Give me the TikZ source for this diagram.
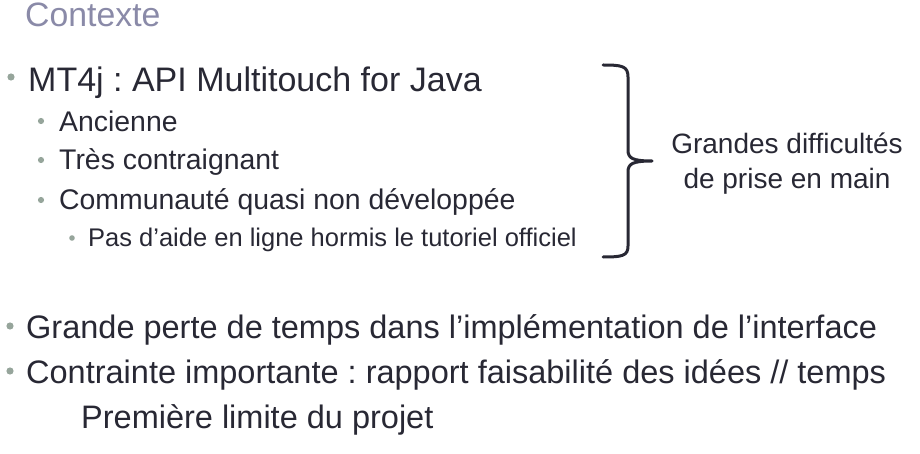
\documentclass[tikz,border=0pt]{standalone}
\usepackage{fontspec}
\setmainfont{Liberation Sans}
\frenchspacing
\definecolor{txt}{RGB}{40,40,52}
\definecolor{ttl}{RGB}{138,138,168}
\definecolor{bul}{RGB}{150,165,155}
\begin{document}
\begin{tikzpicture}[x=1pt,y=-1pt,
  lvlone/.style={anchor=base west,inner sep=0pt,text=txt,font=\fontsize{34}{40}\selectfont},
  lvlbottom/.style={anchor=base west,inner sep=0pt,text=txt,font=\fontsize{32.5}{40}\selectfont},
  lvltwo/.style={anchor=base west,inner sep=0pt,text=txt,font=\fontsize{28.4}{34}\selectfont},
  lvlthree/.style={anchor=base west,inner sep=0pt,text=txt,font=\fontsize{25.5}{30}\selectfont},
  titlestyle/.style={anchor=base west,inner sep=0pt,text=ttl,font=\fontsize{33.8}{40}\selectfont},
  bulletdot/.style={fill=bul}]
\useasboundingbox (0,0) rectangle (920,454);
\node[titlestyle] (title) at (25,27) {Contexte};
% level 1
\fill[bulletdot] (11,77) circle (3.6);
\node[lvlone] (mt) at (28,92) {MT4j : API Multitouch for Java};
% level 2
\fill[bulletdot] (41,121) circle (3.1);
\node[lvltwo] (anc) at (59,132) {Ancienne};
\fill[bulletdot] (41,160) circle (3.1);
\node[lvltwo] (tres) at (59,170) {Très contraignant};
\fill[bulletdot] (41,200) circle (3.1);
\node[lvltwo] (comm) at (59,210) {Communauté quasi non développée};
% level 3
\fill[bulletdot] (72,238) circle (2.8);
\node[lvlthree] (aide) at (88,247) {Pas d’aide en ligne hormis le tutoriel officiel};
% brace
\draw[txt,line width=3pt,line cap=round,line join=round]
  (603,65) .. controls (622,65) and (628,66) .. (628,77) -- (628,150)
  .. controls (628,158) and (632,161) .. (652,161)
  .. controls (632,161) and (628,164) .. (628,172) -- (628,246)
  .. controls (628,256) and (622,257) .. (603,257);
\node[anchor=base,inner sep=0pt,text=txt,font=\fontsize{28}{35}\selectfont,align=center] (diff) at (787,189) {Grandes difficultés\\de prise en main};
% bottom bullets
\fill[bulletdot] (10,326) circle (3.6);
\node[lvlbottom] (perte) at (26,338) {Grande perte de temps dans l’implémentation de l’interface};
\fill[bulletdot] (10,371) circle (3.6);
\node[lvlbottom] (contr) at (26,383) {Contrainte importante : rapport faisabilité des idées // temps};
\node[lvlbottom] (prem) at (81,428) {Première limite du projet};
\end{tikzpicture}
\end{document}
